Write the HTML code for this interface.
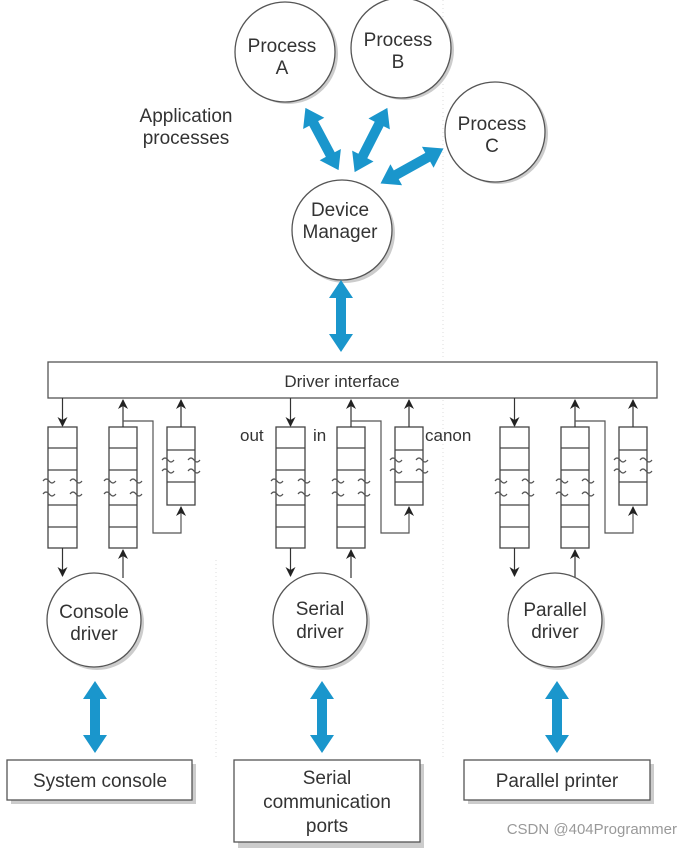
<!DOCTYPE html>
<html><head><meta charset="utf-8"><style>
html,body{margin:0;padding:0;background:#fff;}
svg{display:block;font-family:"Liberation Sans",Arial,sans-serif;}
</style></head><body>
<svg width="685" height="848" viewBox="0 0 685 848" xmlns="http://www.w3.org/2000/svg">
<defs>
<marker id="ah" markerUnits="userSpaceOnUse" markerWidth="10" markerHeight="10" refX="9" refY="5" orient="auto"><path d="M0,0 L10,5 L0,10 L3,5 Z" fill="#222"/></marker>
<g id="q">
  <line x1="62.5" y1="398" x2="62.5" y2="426" stroke="#333" stroke-width="1.2" marker-end="url(#ah)"/>
  <rect x="48" y="427" width="29" height="121" fill="#fff" stroke="#444" stroke-width="1.3"/>
  <g stroke="#444" stroke-width="1.3"><line x1="48" y1="448" x2="77" y2="448"/><line x1="48" y1="470" x2="77" y2="470"/><line x1="48" y1="505" x2="77" y2="505"/><line x1="48" y1="527" x2="77" y2="527"/></g>
  <path d="M43,481 q3,-4 6,0 t6,0 M70,481 q3,-4 6,0 t6,0 M43,494 q3,-4 6,0 t6,0 M70,494 q3,-4 6,0 t6,0" fill="none" stroke="#555" stroke-width="1.2"/>
  <line x1="62.5" y1="548" x2="62.5" y2="576" stroke="#333" stroke-width="1.2" marker-end="url(#ah)"/>
  <line x1="123" y1="578" x2="123" y2="550" stroke="#333" stroke-width="1.2" marker-end="url(#ah)"/>
  <rect x="109" y="427" width="28" height="121" fill="#fff" stroke="#444" stroke-width="1.3"/>
  <g stroke="#444" stroke-width="1.3"><line x1="109" y1="448" x2="137" y2="448"/><line x1="109" y1="470" x2="137" y2="470"/><line x1="109" y1="505" x2="137" y2="505"/><line x1="109" y1="527" x2="137" y2="527"/></g>
  <path d="M104,481 q3,-4 6,0 t6,0 M130,481 q3,-4 6,0 t6,0 M104,494 q3,-4 6,0 t6,0 M130,494 q3,-4 6,0 t6,0" fill="none" stroke="#555" stroke-width="1.2"/>
  <line x1="123" y1="427" x2="123" y2="400" stroke="#333" stroke-width="1.2" marker-end="url(#ah)"/>
  <path d="M123,421 H153 V533 H181 V507" fill="none" stroke="#555" stroke-width="1.2" marker-end="url(#ah)"/>
  <rect x="167" y="427" width="28" height="78" fill="#fff" stroke="#444" stroke-width="1.3"/>
  <g stroke="#444" stroke-width="1.3"><line x1="167" y1="450" x2="195" y2="450"/><line x1="167" y1="482" x2="195" y2="482"/></g>
  <path d="M162,460 q3,-4 6,0 t6,0 M188,460 q3,-4 6,0 t6,0 M162,471 q3,-4 6,0 t6,0 M188,471 q3,-4 6,0 t6,0" fill="none" stroke="#555" stroke-width="1.2"/>
  <line x1="181" y1="427" x2="181" y2="400" stroke="#333" stroke-width="1.2" marker-end="url(#ah)"/>
</g>
<g id="ba"><polygon points="0,-36 -12,-18 -5,-18 -5,18 -12,18 0,36 12,18 5,18 5,-18 12,-18" fill="#1a96cc"/></g>
</defs>

<line x1="443" y1="0" x2="443" y2="360" stroke="#ddd" stroke-dasharray="1,3"/>
<line x1="443" y1="400" x2="443" y2="760" stroke="#ddd" stroke-dasharray="1,3"/>
<line x1="216" y1="560" x2="216" y2="760" stroke="#ddd" stroke-dasharray="1,3"/>

<g stroke="#555" stroke-width="1.3">
<circle cx="288" cy="54" r="50" fill="#ccc" stroke="none"/><circle cx="285" cy="52" r="50" fill="#fff"/>
<circle cx="404" cy="50" r="50" fill="#ccc" stroke="none"/><circle cx="401" cy="48" r="50" fill="#fff"/>
<circle cx="498" cy="134" r="50" fill="#ccc" stroke="none"/><circle cx="495" cy="132" r="50" fill="#fff"/>
<circle cx="345" cy="233" r="50" fill="#ccc" stroke="none"/><circle cx="342" cy="230" r="50" fill="#fff"/>
</g>
<g font-size="19" fill="#333" text-anchor="middle">
<text x="282" y="52">Process</text><text x="282" y="74">A</text>
<text x="398" y="46">Process</text><text x="398" y="68">B</text>
<text x="492" y="130">Process</text><text x="492" y="152">C</text>
<text x="340" y="216">Device</text><text x="340" y="238">Manager</text>
<text x="186" y="122">Application</text><text x="186" y="144">processes</text>
</g>

<use href="#ba" transform="translate(322,139) rotate(-28) scale(1,0.98)"/>
<use href="#ba" transform="translate(371,140) rotate(27)"/>
<use href="#ba" transform="translate(412,166) rotate(61)"/>
<use href="#ba" transform="translate(341,316)"/>

<rect x="48" y="362" width="609" height="36" fill="#fff" stroke="#555" stroke-width="1.3"/>
<text x="342" y="387" font-size="17" fill="#333" text-anchor="middle">Driver interface</text>

<use href="#q"/>
<use href="#q" transform="translate(228,0)"/>
<use href="#q" transform="translate(452,0)"/>
<g font-size="17" fill="#333">
<text x="240" y="441">out</text><text x="313" y="441">in</text><text x="425" y="441">canon</text>
</g>

<g stroke="#555" stroke-width="1.3">
<circle cx="97" cy="623" r="47" fill="#ccc" stroke="none"/><circle cx="94" cy="620" r="47" fill="#fff"/>
<circle cx="323" cy="623" r="47" fill="#ccc" stroke="none"/><circle cx="320" cy="620" r="47" fill="#fff"/>
<circle cx="558" cy="623" r="47" fill="#ccc" stroke="none"/><circle cx="555" cy="620" r="47" fill="#fff"/>
</g>
<g font-size="19" fill="#333" text-anchor="middle">
<text x="94" y="618">Console</text><text x="94" y="640">driver</text>
<text x="320" y="615">Serial</text><text x="320" y="638">driver</text>
<text x="555" y="616">Parallel</text><text x="555" y="638">driver</text>
</g>

<use href="#ba" transform="translate(95,717)"/>
<use href="#ba" transform="translate(322,717)"/>
<use href="#ba" transform="translate(557,717)"/>

<rect x="11" y="764" width="185" height="40" fill="#ccc"/>
<rect x="7" y="760" width="185" height="40" fill="#fff" stroke="#555" stroke-width="1.3"/>
<rect x="238" y="764" width="186" height="84" fill="#ccc"/>
<rect x="234" y="760" width="186" height="82" fill="#fff" stroke="#555" stroke-width="1.3"/>
<rect x="468" y="764" width="186" height="40" fill="#ccc"/>
<rect x="464" y="760" width="186" height="40" fill="#fff" stroke="#555" stroke-width="1.3"/>
<g font-size="19" fill="#333" text-anchor="middle">
<text x="100" y="787">System console</text>
<text x="327" y="784">Serial</text><text x="327" y="808">communication</text><text x="327" y="832">ports</text>
<text x="557" y="787">Parallel printer</text>
</g>
<text x="677" y="834" font-size="15" fill="#999" text-anchor="end">CSDN @404Programmer</text>
</svg>
</body></html>
